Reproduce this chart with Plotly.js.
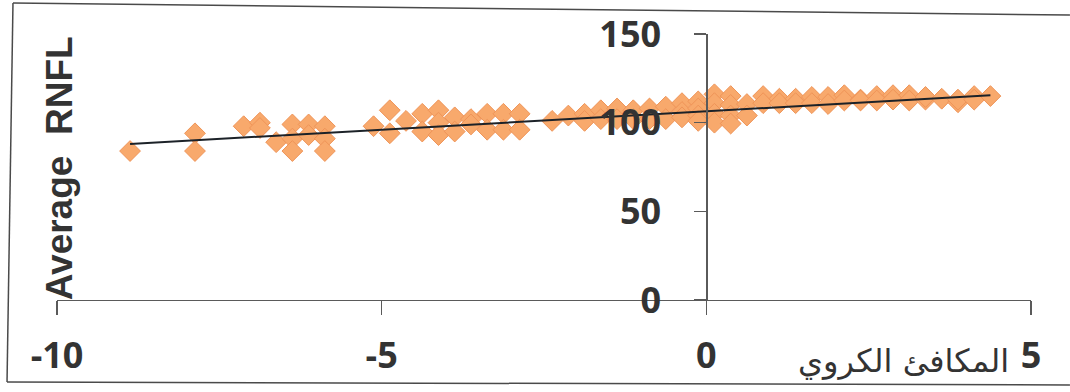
<!DOCTYPE html>
<html>
<head>
<meta charset="utf-8">
<script src="https://cdn.plot.ly/plotly-3.0.1.min.js"></script>
<style>html,body{margin:0;padding:0;background:#fff;}#chart{width:1070px;height:392px;}</style>
</head>
<body>
<div id="chart"></div>
<script>
// Spherical equivalent (x) vs Average RNFL (y)
const sphX = [
  -8.875, -7.875, -7.875,
  -7.125, -6.875, -6.875, -6.625, -6.375, -6.375, -6.375, -6.125, -6.125, -5.875, -5.875, -5.875,
  -5.125, -4.875, -4.875, -4.625, -4.375, -4.375, -4.125, -4.125, -4.125, -3.875, -3.875,
  -3.625, -3.625, -3.375, -3.375, -3.125, -3.125, -2.875, -2.875,
  -2.375, -2.125, -1.875, -1.875, -1.625, -1.625, -1.375, -1.375, -1.125, -1.125, -0.875, -0.875, -0.625, -0.625,
  -0.375, -0.375, -0.375, -0.125, -0.125, -0.125, -0.125, 0.125, 0.125, 0.125, 0.125,
  0.375, 0.375, 0.375, 0.375, 0.625, 0.625,
  0.875, 0.875, 1.125, 1.125, 1.375, 1.375, 1.625, 1.625, 1.875, 1.875,
  2.125, 2.125, 2.375, 2.375, 2.625, 2.625, 2.875, 2.875, 3.125, 3.125,
  3.375, 3.375, 3.625, 3.875, 3.875, 4.125, 4.125, 4.375
];
const rnflY = [
  84, 94, 84,
  98, 100, 97, 89, 99, 91, 84, 99, 93, 98, 91, 84,
  98, 107, 94, 101, 105, 95, 107, 100, 93, 103, 95,
  102, 99, 105, 96, 105, 96, 105, 96,
  101, 104, 105, 101, 107, 102, 108, 102, 107, 102, 108, 102, 109, 102,
  111, 106, 103, 112, 108, 104, 101, 116, 111, 105, 100,
  115, 110, 104, 99.5, 110.5, 104,
  115, 111, 113.5, 111, 113.5, 111, 114.5, 111, 114.5, 110.5,
  115.5, 112.5, 113, 112.5, 115, 112.5, 115.5, 113, 115.5, 112.5,
  113, 114.5, 113.5, 111.5, 113, 115, 113, 115
];
// Linear trendline end points
const trendX = [-8.875, 4.375];
const trendY = [88, 115.5];
// Axis tick values
const xTicks = [-10, -5, 0, 5];
const yTicks = [0, 50, 100, 150];
const xTitle = "المكافئ الكروي";
const yTitle = "Average  RNFL";

const tickFont = {family: "Open Sans, Liberation Sans, sans-serif", size: 36, color: "#333333", weight: 700};
const axisCol = "#5a5a5a";

const data = [
  {
    type: "scatter", mode: "markers", x: sphX, y: rnflY,
    marker: {symbol: "diamond", size: 16, color: "#F8A96C", line: {color: "#EF9458", width: 1}},
    hoverinfo: "x+y", showlegend: false
  },
  {
    type: "scatter", mode: "lines", x: trendX, y: trendY,
    line: {color: "#1c2228", width: 2}, showlegend: false, hoverinfo: "skip"
  }
];

const frameCol = "#4a4a4a";
const layout = {
  width: 1070, height: 392,
  margin: {l: 57, r: 39, t: 34, b: 92},
  paper_bgcolor: "#ffffff", plot_bgcolor: "#ffffff",
  showlegend: false,
  xaxis: {
    range: [-10, 5], tickvals: xTicks, ticktext: xTicks.map(String),
    showgrid: false, zeroline: false, showline: true, linecolor: axisCol, linewidth: 1.2,
    ticks: "outside", ticklen: 14, tickwidth: 1.2, tickcolor: axisCol,
    tickfont: tickFont, ticklabelstandoff: 10, fixedrange: true
  },
  yaxis: {
    range: [0, 150], tickvals: yTicks, ticktext: yTicks.map(String),
    anchor: "free", position: 10 / 15,
    showgrid: false, zeroline: false, showline: true, linecolor: axisCol, linewidth: 1.2,
    ticks: "outside", ticklen: 12, tickwidth: 1.2, tickcolor: axisCol,
    tickfont: tickFont, ticklabelstandoff: 26, fixedrange: true
  },
  annotations: [
    {
      text: yTitle, xref: "paper", yref: "paper", x: 0.002, y: 0.495,
      xanchor: "center", yanchor: "middle", textangle: -90, showarrow: false,
      font: {family: "Liberation Sans, Arial, sans-serif", size: 37, color: "#333333", weight: 700}
    },
    {
      text: xTitle, xref: "paper", yref: "paper", x: 0.979, y: -0.228,
      xanchor: "right", yanchor: "middle", showarrow: false,
      font: {family: "DejaVu Sans, sans-serif", size: 32, color: "#333333"}
    }
  ],
  shapes: [
    {type: "line", xref: "paper", yref: "paper", x0: -0.0452, y0: 1.1165, x1: 1.04, y1: 1.0714, line: {color: frameCol, width: 1.5}},
    {type: "line", xref: "paper", yref: "paper", x0: -0.0452, y0: 1.1165, x1: -0.0513, y1: -0.308, line: {color: frameCol, width: 1.5}},
    {type: "line", xref: "paper", yref: "paper", x0: -0.0513, y0: -0.308, x1: 1.04, y1: -0.3195, line: {color: frameCol, width: 1.5}}
  ]
};

Plotly.newPlot("chart", data, layout, {displayModeBar: false, staticPlot: true});
</script>
</body>
</html>
